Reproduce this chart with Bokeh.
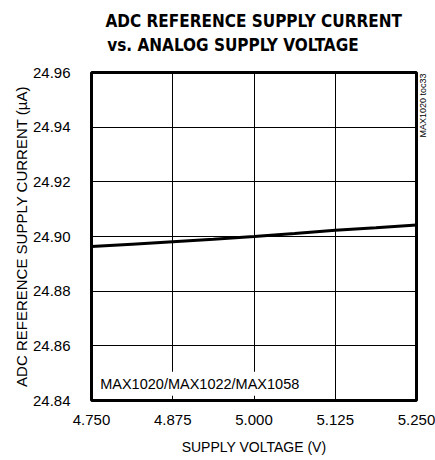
import math
from bokeh.plotting import figure
from bokeh.models import Label, FixedTicker, Range1d, LinearAxis, Title
from bokeh.embed import file_html
from bokeh.resources import INLINE

# ---- data ----
supply_voltage = [4.75, 4.8125, 4.875, 4.9375, 5.0, 5.0625, 5.125, 5.1875, 5.25]
ref_current = [24.8963, 24.8972, 24.8981, 24.8990, 24.9000, 24.9011, 24.9023, 24.9032, 24.9042]

x_ticks = [4.75, 4.875, 5.0, 5.125, 5.25]
x_tick_labels = ["4.750", "4.875", "5.000", "5.125", "5.250"]
y_ticks = [24.84, 24.86, 24.88, 24.90, 24.92, 24.94, 24.96]
y_tick_labels = ["24.84", "24.86", "24.88", "24.90", "24.92", "24.94", "24.96"]

title_lines = ["ADC REFERENCE SUPPLY CURRENT", "vs. ANALOG SUPPLY VOLTAGE"]
x_label = "SUPPLY VOLTAGE (V)"
y_label = "ADC REFERENCE SUPPLY CURRENT (\u00b5A)"
part_label = "MAX1020/MAX1022/MAX1058"
toc_label = "MAX1020 toc33"

FONT = "Liberation Sans"
TFONT = "DejaVu Sans Condensed"

p = figure(width=435, height=460, output_backend="svg", toolbar_location=None,
           x_range=Range1d(4.75, 5.25), y_range=Range1d(24.84, 24.96),
           min_border_left=91, min_border_right=17, min_border_top=72, min_border_bottom=60)
p.title.visible = False
p.background_fill_color = "white"
p.border_fill_color = "white"
p.outline_line_color = "black"
p.outline_line_width = 3
p.outline_line_alpha = 1.0

for ax in (p.xaxis, p.yaxis):
    ax.axis_line_color = None
    ax.major_tick_line_color = None
    ax.minor_tick_line_color = None
    ax.major_label_text_font = FONT
    ax.major_label_text_font_size = "15px"
    ax.major_label_text_color = "black"
    ax.axis_label_text_font = FONT
    ax.axis_label_text_font_style = "normal"
    ax.axis_label_text_color = "black"

p.xaxis.ticker = FixedTicker(ticks=x_ticks)
p.yaxis.ticker = FixedTicker(ticks=y_ticks)
p.xaxis.major_label_overrides = {t: l for t, l in zip(x_ticks, x_tick_labels)}
p.yaxis.major_label_overrides = {t: l for t, l in zip(y_ticks, y_tick_labels)}
p.xaxis.major_label_standoff = 8
p.yaxis.major_label_standoff = 15

p.xaxis.axis_label = x_label
p.xaxis.axis_label_text_font_size = "14px"
p.xaxis.axis_label_standoff = 11
p.yaxis.axis_label = y_label
p.yaxis.axis_label_text_font_size = "15px"
p.yaxis.axis_label_standoff = 0


def empty_axis(label, font, size, style, standoff):
    return LinearAxis(ticker=FixedTicker(ticks=[]), axis_label=label,
                      axis_line_color=None, major_tick_line_color=None,
                      minor_tick_line_color=None, major_tick_out=0, major_tick_in=0,
                      minor_tick_out=0, minor_tick_in=0, major_label_standoff=0,
                      axis_label_standoff=standoff, axis_label_text_font=font,
                      axis_label_text_font_size=size, axis_label_text_font_style=style,
                      axis_label_text_color="black")


# right-side document code reading upward; leading em spaces lift it to the top
toc_pad = "\u2003" * 11
raxis = empty_axis(toc_pad + toc_label, FONT, "9px", "normal", 6)
try:
    raxis.axis_label_orientation = math.pi / 2
except Exception:
    pass
p.add_layout(raxis, "right")

# second title line as the label of an empty top axis (closest to the frame);
# trailing spaces shift the centred text so it starts under the first line
title_pad = "\u2003\u2003\u2002\u2005"
taxis = empty_axis(title_lines[1] + title_pad, TFONT, "17px", "bold", 18)
p.add_layout(taxis, "above")

# first title line above it
p.add_layout(Title(text=title_lines[0], align="left", offset=14, standoff=2,
                   text_font=TFONT, text_font_size="17px", text_font_style="bold",
                   text_color="black"), "above")

p.xgrid.ticker = FixedTicker(ticks=x_ticks)
p.ygrid.ticker = FixedTicker(ticks=y_ticks)
for g in (p.xgrid, p.ygrid):
    g.grid_line_color = "black"
    g.grid_line_width = 1
    g.grid_line_alpha = 1.0

p.line(supply_voltage, ref_current, line_color="black", line_width=3)

# annotation inside the frame (screen units relative to frame: left=91, bottom=400)
p.add_layout(Label(x=100.7 - 91 - 5, y=400 - 388.3 + 5, x_units="screen", y_units="screen",
                   text=part_label, text_font=FONT, text_font_size="14.5px",
                   text_align="left", text_baseline="alphabetic", text_color="black",
                   background_fill_color="white", padding=4))

open("out.html", "w").write(file_html(p, INLINE))
